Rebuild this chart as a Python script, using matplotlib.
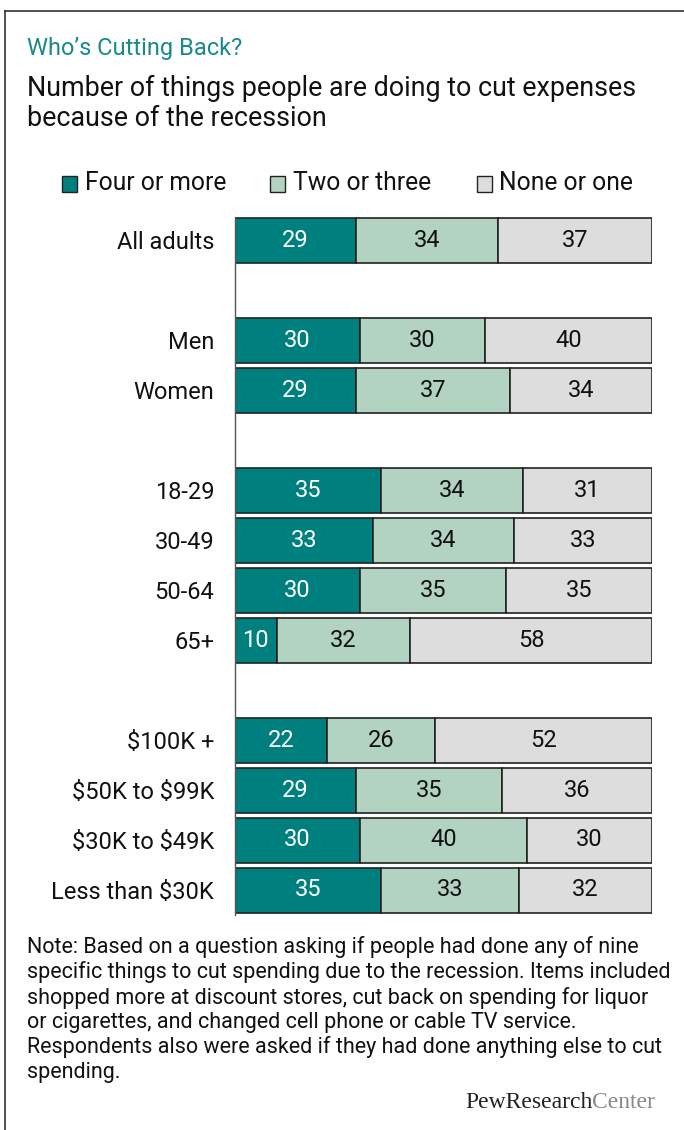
import matplotlib
matplotlib.use("Agg")
import matplotlib.pyplot as plt
from matplotlib.patches import Rectangle
from matplotlib.lines import Line2D

categories = ["All adults", "Men", "Women", "18-29", "30-49", "50-64", "65+",
              "$100K +", "$50K to $99K", "$30K to $49K", "Less than $30K"]
positions = [0, 2, 3, 5, 6, 7, 8, 10, 11, 12, 13]
four_or_more = [29, 30, 29, 35, 33, 30, 10, 22, 29, 30, 35]
two_or_three = [34, 30, 37, 34, 34, 35, 32, 26, 35, 40, 33]
none_or_one = [37, 40, 34, 31, 33, 35, 58, 52, 36, 30, 32]
series_names = ["Four or more", "Two or three", "None or one"]
colors = ["#007F7F", "#B2D3C1", "#DDDDDD"]
text_colors = ["white", "#111111", "#111111"]

FONT = "Roboto"
plt.rcParams["font.family"] = [FONT, "DejaVu Sans"]
plt.rcParams["text.parse_math"] = False

W, H = 684, 1130
fig = plt.figure(figsize=(W / 100, H / 100), dpi=100)

def fx(px):
    return px / W

def fy(py):
    return 1 - py / H

fig.add_artist(Line2D([fx(5), 1.0], [fy(11), fy(11)], color="#333333", lw=1.2))
fig.add_artist(Line2D([fx(5), fx(5)], [fy(11), 0.0], color="#333333", lw=1.2))

fig.text(fx(27), fy(48), "Who\u2019s Cutting Back?", fontsize=17, color="#1A8A8A",
         va="center", ha="left")
fig.text(fx(27), fy(88), "Number of things people are doing to cut expenses",
         fontsize=19.4, color="#111111", va="center", ha="left")
fig.text(fx(27), fy(118), "because of the recession",
         fontsize=19.4, color="#111111", va="center", ha="left")

leg_sq = [62, 270, 477]
leg_tx = [85, 293, 499]
for name, c, sx, tx in zip(series_names, colors, leg_sq, leg_tx):
    fig.add_artist(Rectangle((fx(sx), fy(192)), fx(15), 16 / H, facecolor=c,
                             edgecolor="#222222", lw=1.0, transform=fig.transFigure))
    fig.text(fx(tx), fy(183), name, fontsize=17.7, color="#111111",
             va="center", ha="left")

ax = fig.add_axes([fx(235), fy(915), fx(652) - fx(235), 700 / H])
ax.set_xlim(0, 100)
ax.set_ylim(13.5, -0.5)

series = [four_or_more, two_or_three, none_or_one]
lefts = [0] * len(categories)
for vals, c, tc in zip(series, colors, text_colors):
    ax.barh(positions, vals, left=lefts, height=0.9, color=c,
            edgecolor="#222222", linewidth=1.2)
    for p, l, v in zip(positions, lefts, vals):
        ax.text(l + v / 2, p, str(v), ha="center", va="center",
                fontsize=17, color=tc)
    lefts = [l + v for l, v in zip(lefts, vals)]

for spine in ["top", "right", "bottom"]:
    ax.spines[spine].set_visible(False)
ax.spines["left"].set_color("#555555")
ax.spines["left"].set_linewidth(1.0)
ax.spines["left"].set_bounds(13.5, -0.45)
ax.set_xticks([])
ax.set_yticks(positions)
ax.set_yticklabels(categories, fontsize=17, color="#111111")
ax.tick_params(axis="y", length=0, pad=15)

note = ("Note: Based on a question asking if people had done any of nine\n"
        "specific things to cut spending due to the recession. Items included\n"
        "shopped more at discount stores, cut back on spending for liquor\n"
        "or cigarettes, and changed cell phone or cable TV service.\n"
        "Respondents also were asked if they had done anything else to cut\n"
        "spending.")
fig.text(fx(27), fy(936), note, fontsize=15.5, color="#111111", va="top", ha="left",
         linespacing=1.2)

logo_y = fy(1102)
t1 = fig.text(fx(465), logo_y, "PewResearch", fontsize=17, family="Liberation Serif",
              color="#222222", ha="left", va="center")
renderer = fig.canvas.get_renderer()
bb = t1.get_window_extent(renderer=renderer)
fig.text(bb.x1 / W, logo_y, "Center", fontsize=17, family="Liberation Serif",
         color="#888888", ha="left", va="center")
fig.savefig("out.png", dpi=100)
